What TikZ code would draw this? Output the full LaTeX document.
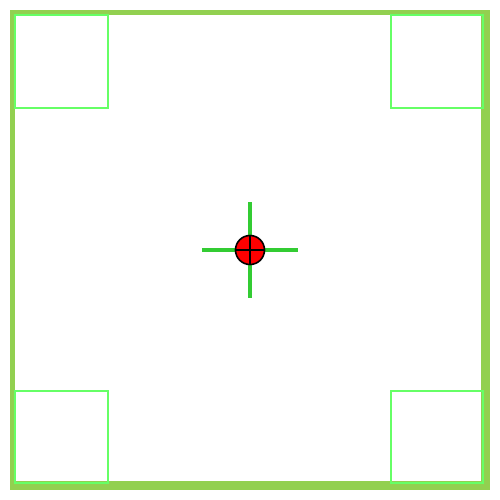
\documentclass[tikz,border=0pt]{standalone}
\usepackage{xcolor}
\usepackage{tikz}
\usetikzlibrary{positioning, calc}

\definecolor{framegreen}{RGB}{146,208,80}
\definecolor{cornergreen}{RGB}{102,255,102}
\definecolor{crossgreen}{RGB}{51,204,51}

\begin{document}
\begin{tikzpicture}[x=0.5pt, y=-0.5pt]
    \useasboundingbox (0,0) rectangle (500,500);
    % Frame
    \draw[framegreen, line width=2.8pt] (12.5,12.5) rectangle (487,487);
    \draw[framegreen, line width=1.2pt] (13,13) rectangle (482.5,482.5);
    % Corner squares
    \draw[cornergreen, line width=1.2pt] (15,15) rectangle (108,108);
    \draw[cornergreen, line width=1.2pt] (391,15) rectangle (483,108);
    \draw[cornergreen, line width=1.2pt] (15,391) rectangle (108,483);
    \draw[cornergreen, line width=1.2pt] (391,391) rectangle (483,483);
    % Target
    \coordinate (west) at (202,250);
    \coordinate (east) at (298,250);
    \coordinate (north) at (250,202);
    \coordinate (south) at (250,298);
    \draw[crossgreen, line width=1.7pt] (west) -- (east);
    \draw[crossgreen, line width=1.7pt] (north) -- (south);
    \node (target) [draw, circle, fill=red, line width=0.8pt, minimum size=14.5pt, inner sep=0pt] at (250,250) {};
    \draw[line width=0.7pt] (target.west) -- (target.east);
    \draw[line width=0.7pt] (target.north) -- (target.south);
\end{tikzpicture}
\end{document}
